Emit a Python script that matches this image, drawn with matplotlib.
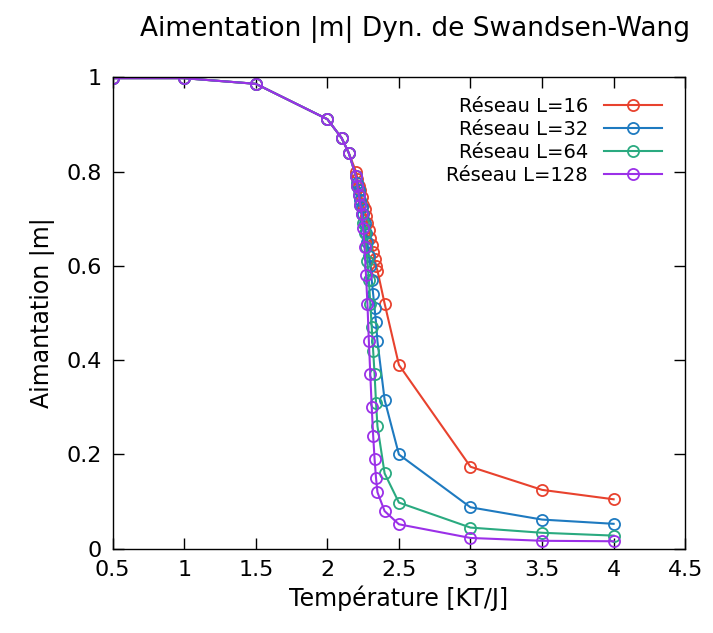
import numpy as np
import matplotlib
matplotlib.use("Agg")
import matplotlib.pyplot as plt
from matplotlib.ticker import FormatStrFormatter, MultipleLocator

# Temperatures (shared by all lattice sizes)
temperature = [0.5, 1.0, 1.5, 2.0, 2.1, 2.15,
               2.2, 2.21, 2.22, 2.23, 2.24, 2.25, 2.26, 2.27, 2.28, 2.29,
               2.3, 2.31, 2.32, 2.33, 2.34, 2.35, 2.4, 2.5, 3.0, 3.5, 4.0]

# Magnetisation |m|
low_t = [0.998, 0.998, 0.986, 0.911, 0.871, 0.839]
m_L16 = low_t + [0.80, 0.785, 0.77, 0.76, 0.745, 0.73, 0.72, 0.705, 0.69, 0.675,
                 0.66, 0.645, 0.63, 0.615, 0.60, 0.59, 0.52, 0.39, 0.174, 0.125, 0.105]
m_L32 = low_t + [0.79, 0.775, 0.76, 0.74, 0.725, 0.71, 0.69, 0.67, 0.65, 0.62,
                 0.60, 0.57, 0.54, 0.51, 0.48, 0.44, 0.316, 0.20, 0.088, 0.062, 0.053]
m_L64 = low_t + [0.79, 0.77, 0.75, 0.73, 0.71, 0.69, 0.67, 0.64, 0.61, 0.57,
                 0.52, 0.47, 0.42, 0.37, 0.31, 0.26, 0.16, 0.098, 0.045, 0.034, 0.028]
m_L128 = low_t + [0.79, 0.77, 0.75, 0.73, 0.71, 0.68, 0.64, 0.58, 0.52, 0.44,
                  0.37, 0.30, 0.24, 0.19, 0.15, 0.12, 0.08, 0.052, 0.023, 0.017, 0.016]

labels = ["Réseau L=16", "Réseau L=32", "Réseau L=64", "Réseau L=128"]
colors = ["#e8422e", "#1e7ac0", "#2aaa80", "#9b30e8"]

fig = plt.figure(figsize=(7.13, 6.33), dpi=100)
ax = fig.add_axes([0.158, 0.133, 0.803, 0.745])

for m, lab, c in zip([m_L16, m_L32, m_L64, m_L128], labels, colors):
    ax.plot(temperature, m, "-o", color=c, label=lab, lw=1.5,
            markersize=8, mfc="none", mew=1.3)

ax.set_xlim(0.5, 4.5)
ax.set_ylim(0, 1)
ax.xaxis.set_major_locator(MultipleLocator(0.5))
ax.yaxis.set_major_locator(MultipleLocator(0.2))
ax.xaxis.set_major_formatter(FormatStrFormatter("%g"))
ax.yaxis.set_major_formatter(FormatStrFormatter("%g"))
ax.tick_params(direction="in", top=True, right=True, length=8, width=1,
               labelsize=16, pad=8)
for s in ax.spines.values():
    s.set_linewidth(1)

ax.set_xlabel("Température [KT/J]", fontsize=17, labelpad=4)
ax.set_ylabel("Aimantation |m|", fontsize=17, labelpad=8)
fig.text(0.582, 0.953, "Aimentation |m| Dyn. de Swandsen-Wang", fontsize=19,
         ha="center", va="center")

ax.legend(loc="upper right", frameon=False, markerfirst=False, numpoints=1,
          handlelength=3.0, fontsize=14, labelspacing=0.2,
          bbox_to_anchor=(0.99, 0.995))

fig.savefig("out.png", dpi=100)
